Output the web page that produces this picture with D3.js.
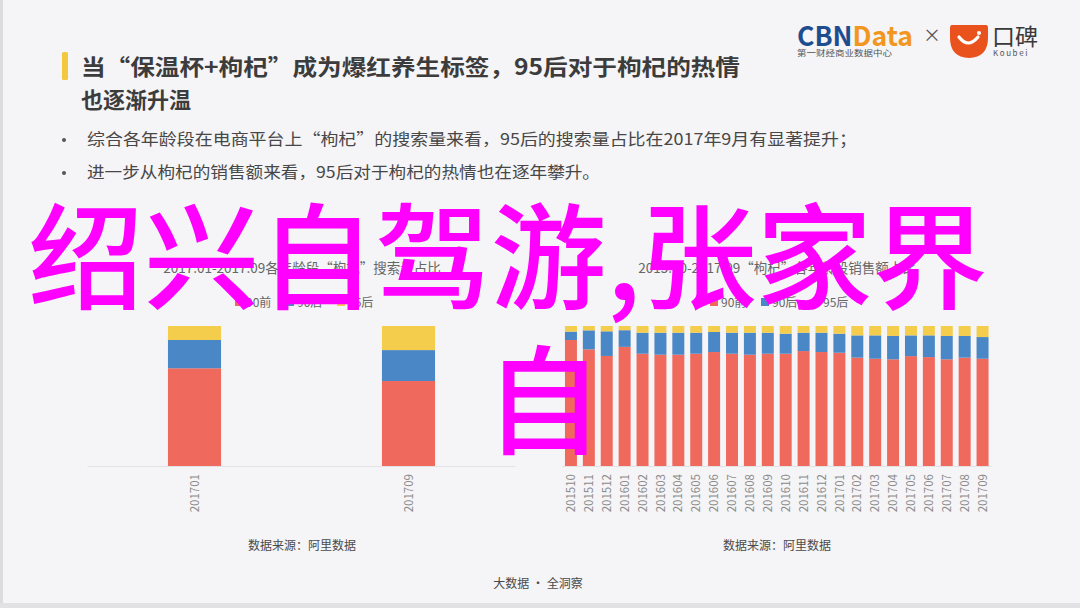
<!DOCTYPE html>
<html><head><meta charset="utf-8">
<script src="https://cdn.jsdelivr.net/npm/d3@7"></script>
<style>
html,body{margin:0;padding:0;background:#f5f4f6;}
svg{display:block;}
text{font-family:"Noto Sans CJK SC","Noto Sans",sans-serif;}
</style></head>
<body>
<svg id="c" width="1080" height="608"></svg>
<script>
// ---------- data ----------
const titleLine1 = "当“保温杯+枸杞”成为爆红养生标签，95后对于枸杞的热情";
const titleLine2 = "也逐渐升温";
const bullets = [
  "综合各年龄段在电商平台上“枸杞”的搜索量来看，95后的搜索量占比在2017年9月有显著提升；",
  "进一步从枸杞的销售额来看，95后对于枸杞的热情也在逐年攀升。"
];
const seriesNames = ["90前", "90后", "95后"];
const seriesKeys = ["pre90", "post90", "post95"];

const leftTitle = "2017.01-2017.09各年龄段“枸杞”搜索量占比";
const leftCats = ["201701", "201709"];
const leftPre90 = [69.8, 60.7];
const leftPost90 = [20.2, 22.1];
const leftPost95 = [10.0, 17.2];

const rightTitle = "2015.10-2017.09“枸杞”各年龄段销售额占比";
const rightCats = ["201510","201511","201512","201601","201602","201603","201604","201605","201606","201607","201608","201609",
                   "201610","201611","201612","201701","201702","201703","201704","201705","201706","201707","201708","201709"];
const rightPre90  = [90.0,83.3,78.6,85.1,80.2,79.5,79.5,80.2,81.4,80.2,79.5,80.2,80.2,82.1,81.4,80.9,77.4,76.6,76.2,78.5,77.8,76.2,77.4,76.6];
const rightPost90 = [6.0,13.6,17.6,11.9,15.0,15.7,15.7,15.0,14.3,15.0,15.7,15.0,14.3,13.1,13.8,13.6,15.9,16.7,16.7,14.8,15.5,16.7,15.5,15.5];
const rightPost95 = [4.0,3.1,3.8,3.0,4.8,4.8,4.8,4.8,4.3,4.8,4.8,4.8,5.5,4.8,4.8,5.5,6.7,6.7,7.1,6.7,6.7,7.1,7.1,7.9];

const sourceText = "数据来源：阿里数据";
const footerText = "大数据 · 全洞察";
const overlayLine1 = "绍兴自驾游,张家界";
const overlayLine2 = "自";

// ---------- drawing ----------
const colors = {pre90:"#f0695d", post90:"#4a87c6", post95:"#f4cd4c"};
const svg = d3.select("#c");

svg.append("rect").attr("x",0).attr("y",0).attr("width",1080).attr("height",608).attr("fill","#f5f4f6");
svg.append("rect").attr("x",0).attr("y",0).attr("width",3).attr("height",608).attr("fill","#dcdbde");
svg.append("rect").attr("x",0).attr("y",603).attr("width",1080).attr("height",5).attr("fill","#e2e1e4");

// title
svg.append("rect").attr("x",62).attr("y",52).attr("width",6).attr("height",28).attr("rx",1.5).attr("fill","#f3c83f");
svg.append("text").attr("x",81).attr("y",75).attr("font-size",22).attr("font-weight","bold").attr("fill","#3c3c3c")
  .attr("textLength",659).attr("lengthAdjust","spacingAndGlyphs").text(titleLine1);
svg.append("text").attr("x",81).attr("y",108).attr("font-size",22).attr("font-weight","bold").attr("fill","#3c3c3c")
  .text(titleLine2);

// bullets
const bulletLens = [770, 513];
bullets.forEach((b,i)=>{
  const y = 145 + i*33;
  svg.append("circle").attr("cx",64).attr("cy",y-5).attr("r",2).attr("fill","#555");
  svg.append("text").attr("x",87).attr("y",y).attr("font-size",16).attr("fill","#474747")
    .attr("textLength",bulletLens[i]).attr("lengthAdjust","spacingAndGlyphs").text(b);
});

// logos
const logo = svg.append("g");
const cbn = logo.append("text").attr("x",797).attr("y",46).attr("font-size",27).attr("font-weight","bold")
  .attr("font-family","Liberation Sans, Arial, sans-serif").attr("textLength",116).attr("lengthAdjust","spacingAndGlyphs");
cbn.append("tspan").attr("fill","#1d4d8f").text("CBN");
cbn.append("tspan").attr("fill","#f2961f").text("Data");
logo.append("text").attr("x",797).attr("y",56).attr("font-size",8).attr("fill","#555")
  .attr("textLength",95).attr("lengthAdjust","spacingAndGlyphs").text("第一财经商业数据中心");
logo.append("text").attr("x",932).attr("y",42).attr("font-size",18).attr("fill","#555").attr("text-anchor","middle").text("×");
logo.append("path").attr("d","M950,25 L986,25 Q988,25 988,28 L988,38 Q988,57 969,58 Q950,57 950,38 L950,28 Q950,25 952,25 Z")
  .attr("fill","#e9521d");
logo.append("path").attr("d","M959,37 Q968,49 978,37").attr("fill","none").attr("stroke","#fff").attr("stroke-width",3.2).attr("stroke-linecap","round");
logo.append("circle").attr("cx",979).attr("cy",33).attr("r",2).attr("fill","#fff");
logo.append("text").attr("x",992).attr("y",45).attr("font-size",23).attr("fill","#3a3a3a").text("口碑");
logo.append("text").attr("x",993).attr("y",56).attr("font-size",8).attr("fill","#555")
  .attr("font-family","Liberation Sans, Arial, sans-serif").attr("letter-spacing",1.6).text("Koubei");

// chart builder
function drawChart(cfg){
  const g = svg.append("g");
  const rows = cfg.cats.map((c,i)=>({cat:c, pre90:cfg.pre90[i], post90:cfg.post90[i], post95:cfg.post95[i]}));
  const x = d3.scaleBand().domain(cfg.cats).range(cfg.range).paddingInner(cfg.padIn).paddingOuter(cfg.padIn/2);
  const y = d3.scaleLinear().domain([0,100]).range([466,326]);
  const stack = d3.stack().keys(seriesKeys)(rows);

  g.append("text").attr("x",cfg.cx).attr("y",273).attr("text-anchor","middle").attr("font-size",13.5).attr("fill","#666")
    .text(cfg.title);

  // legend
  const lg = g.append("g").attr("transform",`translate(${cfg.cx - 67},0)`);
  seriesKeys.forEach((k,i)=>{
    lg.append("rect").attr("x",i*51).attr("y",298).attr("width",8).attr("height",8).attr("fill",colors[k]);
    lg.append("text").attr("x",i*51+11).attr("y",307).attr("font-size",12).attr("fill","#666").text(seriesNames[i]);
  });

  g.append("line").attr("x1",cfg.range[0]).attr("x2",cfg.range[1]).attr("y1",466.5).attr("y2",466.5)
    .attr("stroke","#e3e2e5").attr("stroke-width",1);

  stack.forEach(s=>{
    g.selectAll(null).data(s).enter().append("rect")
      .attr("x",d=>x(d.data.cat)).attr("width",x.bandwidth())
      .attr("y",d=>y(d[1])).attr("height",d=>y(d[0])-y(d[1]))
      .attr("fill",colors[s.key]);
  });

  const ax = g.append("g").attr("transform","translate(0,474)")
    .call(d3.axisBottom(x).tickSize(0).tickPadding(0));
  ax.select(".domain").remove();
  ax.selectAll("text").attr("font-size",11.5).attr("fill","#8c8c8c")
    .attr("font-family","Roboto, 'Noto Sans', sans-serif")
    .attr("transform","rotate(-90)").attr("text-anchor","end")
    .attr("x",0).attr("y",0).attr("dy","0.36em").attr("dx",0);

  g.append("text").attr("x",cfg.cx).attr("y",550).attr("text-anchor","middle").attr("font-size",12).attr("fill","#4a4a4a")
    .text(sourceText);
}

drawChart({title:leftTitle, cats:leftCats, pre90:leftPre90, post90:leftPost90, post95:leftPost95,
  range:[87.5,515.5], padIn:0.752, cx:302});
drawChart({title:rightTitle, cats:rightCats, pre90:rightPre90, post90:rightPost90, post95:rightPost95,
  range:[562,991.5], padIn:0.33, cx:777});

svg.append("text").attr("x",538).attr("y",588).attr("text-anchor","middle").attr("font-size",12).attr("fill","#4a4a4a")
  .text(footerText);

// magenta overlay text
svg.append("text").attr("x",28).attr("y",300).attr("font-size",115).attr("fill","#ff00ff")
  .attr("font-weight",500).attr("textLength",960).attr("lengthAdjust","spacingAndGlyphs").text(overlayLine1);
svg.append("text").attr("x",485).attr("y",445).attr("font-size",118).attr("fill","#ff00ff")
  .attr("font-weight",500).text(overlayLine2);
</script>
</body></html>
